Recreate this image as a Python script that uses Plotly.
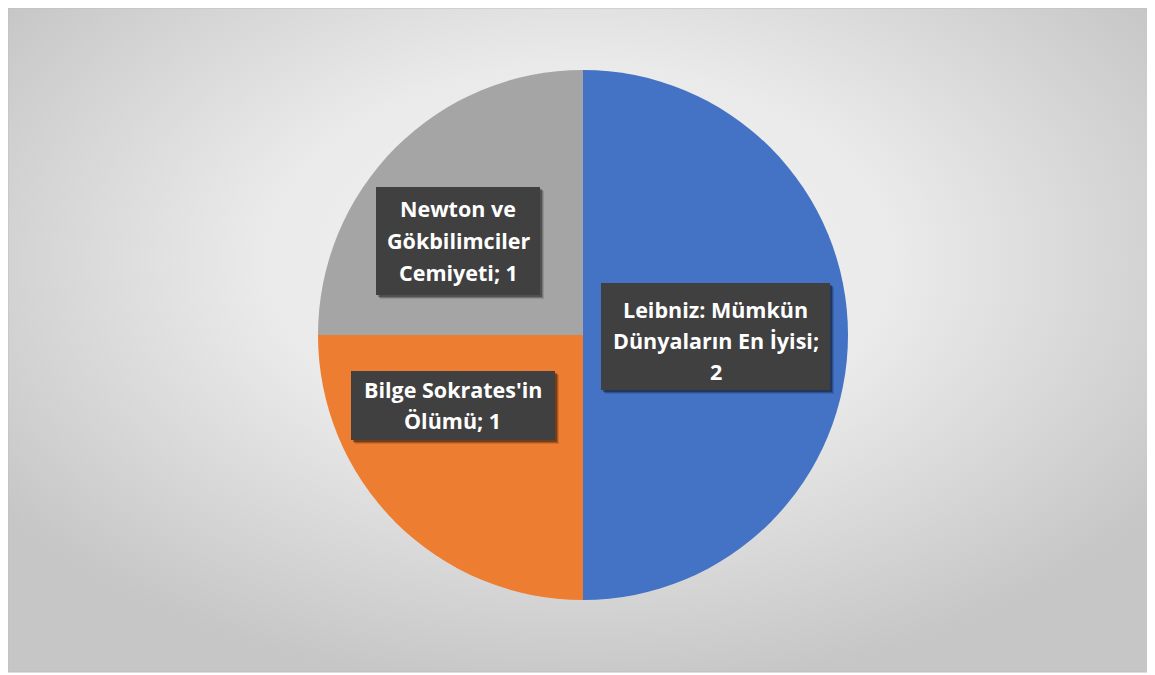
import base64
import plotly.graph_objects as go

# ---- data ----
labels = ["Leibniz: Mümkün Dünyaların En İyisi", "Bilge Sokrates'in Ölümü", "Newton ve Gökbilimciler Cemiyeti"]
values = [2, 1, 1]
colors = ["#4472C4", "#ED7D31", "#A5A5A5"]

# ---- layout / styling ----
W, H = 1155, 675
OFF = 8  # page body margin
FW, FH = W - OFF, H - OFF
# words per wrapped line for each data label
line_word_counts = [[2, 3, 1], [2, 2], [2, 1, 2]]
# label boxes in px: (x0, y0, x1, y1) and baselines of each line
boxes = [(601, 283, 830, 390), (351, 371, 555, 440), (376, 187, 540, 295)]
baselines = [[317, 348, 379], [397, 428], [216, 248, 280]]
FONT = "Open Sans"
FS = 21.5


def px(x):
    return (x - OFF) / FW


def py(y):
    return 1 - (y - OFF) / FH


# background radial gradient (as svg image)
bx0, by0, bx1, by1 = 7, 1, 1150, 672
bx0c, by0c = max(bx0, OFF), max(by0, OFF)
bw, bh = bx1 - bx0c, by1 - by0c
svg = f'''<svg xmlns="http://www.w3.org/2000/svg" width="{bw}" height="{bh}" viewBox="0 0 {bw} {bh}" preserveAspectRatio="none">
<defs><radialGradient id="g" cx="0.5" cy="0.38" r="0.62" gradientTransform="translate(0.5 0.38) scale(1 1.05) translate(-0.5 -0.38)">
<stop offset="0" stop-color="#f3f3f3"/><stop offset="0.45" stop-color="#eaeaea"/><stop offset="1" stop-color="#c6c6c6"/></radialGradient></defs>
<rect x="0" y="0" width="{bw}" height="{bh}" fill="url(#g)"/></svg>'''
src = "data:image/svg+xml;base64," + base64.b64encode(svg.encode()).decode()

fig = go.Figure()
fig.add_trace(go.Pie(
    labels=labels, values=values, sort=False, direction="clockwise", rotation=0,
    marker=dict(colors=colors, line=dict(width=0)),
    textinfo="none", showlegend=False,
    domain=dict(x=[px(318), px(848)], y=[py(600), py(70)]),
))

shapes = [dict(type="rect", xref="paper", yref="paper", x0=px(bx0c), x1=px(bx1), y0=py(by1), y1=py(by0c),
               line=dict(color="#bfbfbf", width=1), fillcolor="rgba(0,0,0,0)", layer="above")]
annotations = []
for i, (lab, val) in enumerate(zip(labels, values)):
    words = f"{lab}; {val}".split(" ")
    lines = []
    k = 0
    for n in line_word_counts[i]:
        lines.append(" ".join(words[k:k + n]))
        k += n
    x0, y0, x1, y1 = boxes[i]
    # shadow
    for off, a in [(4, 0.12), (3, 0.2), (2, 0.3)]:
        shapes.append(dict(type="rect", xref="paper", yref="paper", x0=px(x0 + off), x1=px(x1 + off),
                           y0=py(y1 + off), y1=py(y0 + off), line=dict(width=0),
                           fillcolor=f"rgba(0,0,0,{a})", layer="above"))
    shapes.append(dict(type="rect", xref="paper", yref="paper", x0=px(x0), x1=px(x1), y0=py(y1), y1=py(y0),
                       line=dict(width=0), fillcolor="#404040", layer="above"))
    for ln, b in zip(lines, baselines[i]):
        annotations.append(dict(xref="paper", yref="paper", x=px((x0 + x1) / 2), y=py(b - 8),
                                text=ln, showarrow=False, xanchor="center", yanchor="middle",
                                font=dict(family=FONT, size=FS, color="white", weight="bold")))

fig.update_layout(
    width=FW, height=FH, margin=dict(l=0, r=0, t=0, b=0),
    paper_bgcolor="white", plot_bgcolor="white",
    images=[dict(source=src, xref="paper", yref="paper", x=px(bx0c), y=py(by0c), sizex=bw / FW, sizey=bh / FH,
                 xanchor="left", yanchor="top", sizing="stretch", layer="below")],
    shapes=shapes, annotations=annotations,
)
fig.write_html("out.html")
